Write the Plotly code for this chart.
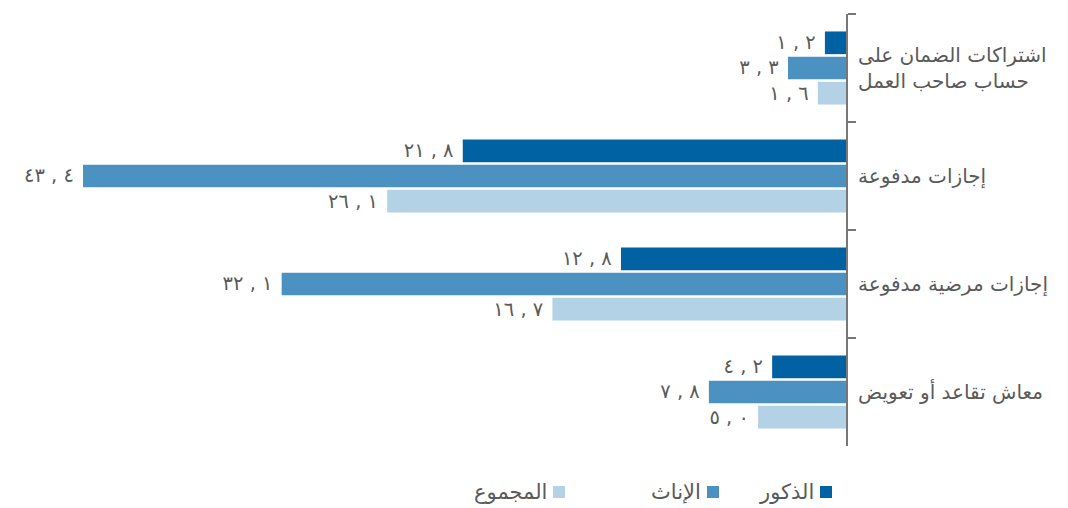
import plotly.graph_objects as go

categories = [
    "اشتراكات الضمان على<br>حساب صاحب العمل",
    "إجازات مدفوعة",
    "إجازات مرضية مدفوعة",
    "معاش تقاعد أو تعويض",
]
series_names = ["الذكور", "الإناث", "المجموع"]
male = [1.2, 21.8, 12.8, 4.2]
female = [3.3, 43.4, 32.1, 7.8]
total = [1.6, 26.1, 16.7, 5.0]
colors = ["#0062A3", "#4B92C3", "#B3D2E6"]

AR = str.maketrans("0123456789", "٠١٢٣٤٥٦٧٨٩")
LRM = "\u200e"


def fmt(v):
    a, b = f"{v:.1f}".split(".")
    return f"{LRM}{a.translate(AR)}{LRM} , {LRM}{b.translate(AR)}{LRM}\u00a0"


W, H = 1068, 508
ml, mt = 0, 14
plot_right = 846
plot_bottom = 446
mr, mb = W - plot_right, H - plot_bottom
pw, ph = W - ml - mr, H - mt - mb

fig = go.Figure()
for name, vals, col in zip(series_names, [male, female, total], colors):
    fig.add_trace(go.Bar(
        y=categories, x=vals, orientation="h", name=name,
        marker=dict(color=col, line=dict(width=0)),
        text=[fmt(v) for v in vals], textposition="outside",
        textfont=dict(size=24, color="#5a5a5a", family="DejaVu Sans"),
        cliponaxis=False, showlegend=False,
    ))


def px2x(px):
    return (px - ml) / pw


def py2y(py):
    return (H - mb - py) / ph


shapes, annots = [], []
legend_sq = [820, 707, 553]
for name, col, sx in zip(series_names, colors, legend_sq):
    shapes.append(dict(type="rect", xref="paper", yref="paper",
                       x0=px2x(sx), x1=px2x(sx + 12), y0=py2y(498), y1=py2y(486),
                       fillcolor=col, line=dict(width=0)))
    annots.append(dict(xref="paper", yref="paper", x=px2x(sx - 4), y=py2y(492),
                       text=name, showarrow=False, xanchor="right", yanchor="middle",
                       font=dict(size=21, color="#5a5a5a", family="DejaVu Sans")))

fig.update_layout(
    width=W, height=H,
    margin=dict(l=ml, r=mr, t=mt, b=mb),
    plot_bgcolor="white", paper_bgcolor="white",
    barmode="group", bargap=0.3, bargroupgap=0.1,
    font=dict(family="DejaVu Sans", color="#5a5a5a"),
    xaxis=dict(range=[pw / 17.58, 0], showgrid=False, zeroline=False,
               showticklabels=False, showline=False, ticks=""),
    yaxis=dict(side="right", autorange="reversed", showgrid=False,
               showline=True, linecolor="#777777", linewidth=2,
               ticks="outside", ticklen=8, tickwidth=2, tickcolor="#777777",
               tickson="boundaries", ticklabelstandoff=6,
               tickfont=dict(size=20, color="#5a5a5a", family="DejaVu Sans")),
    shapes=shapes, annotations=annots,
)
fig.write_html(
    "out.html",
    config={"displayModeBar": False},
    post_script="document.body.style.margin='0';document.body.style.overflow='hidden';",
)
